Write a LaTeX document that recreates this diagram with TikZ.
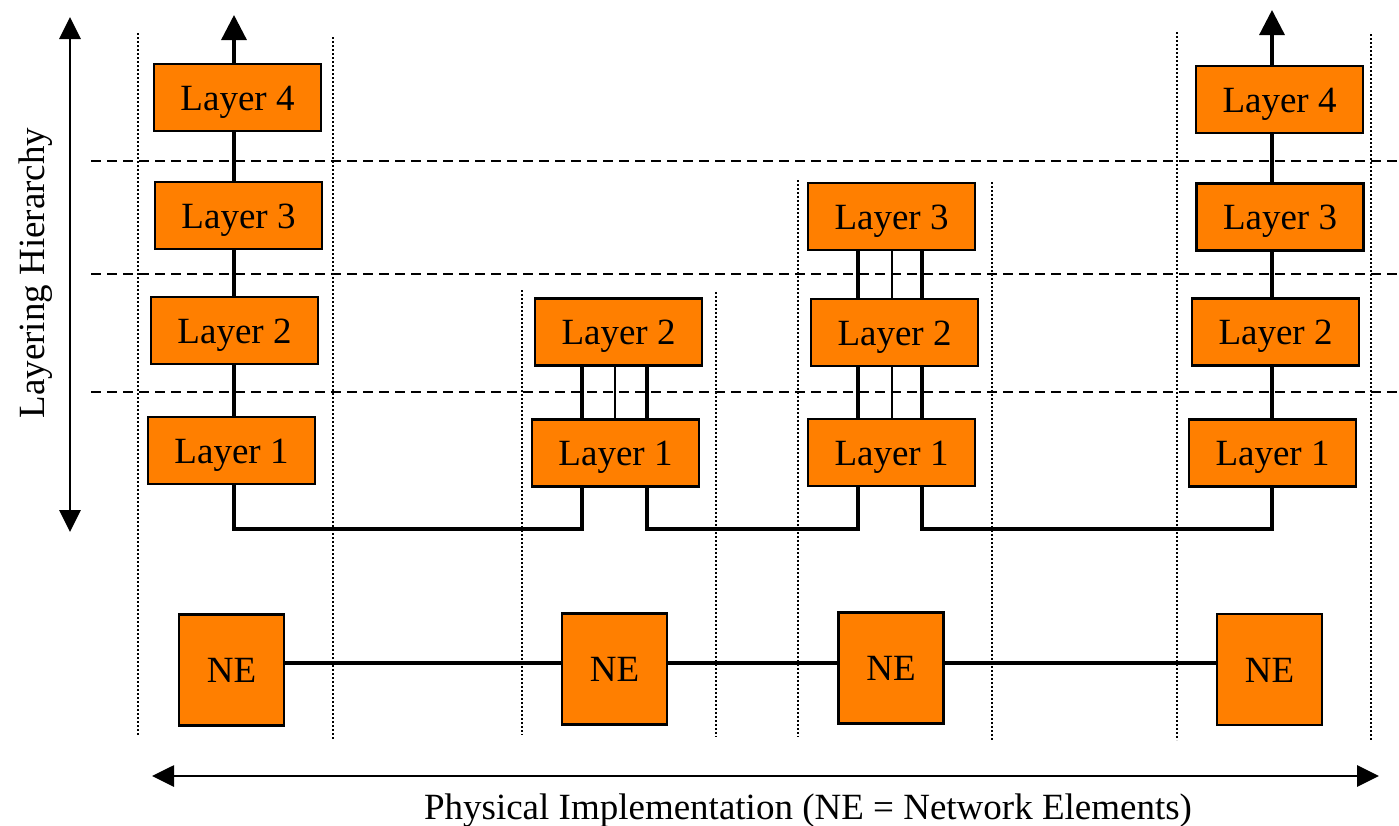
\documentclass[tikz,border=0pt]{standalone}
\usepackage{fontspec}
\setmainfont{Liberation Serif}
\newfontfamily\timesface{Liberation Serif}
\usetikzlibrary{arrows.meta}
\definecolor{boxorange}{RGB}{255,127,0}
\begin{document}
\begin{tikzpicture}[x=1pt,y=-1pt,
  every node/.style={font=\timesface\fontsize{37}{44}\selectfont},
  layerbox/.style={draw=black, line width=2.6pt, fill=boxorange,
    minimum width=167pt, minimum height=67pt, inner sep=0pt,
    text height=25pt, text depth=0pt},
  nebox/.style={layerbox, minimum width=105pt, minimum height=111pt},
  link/.style={line width=3.3pt},
  thinlink/.style={line width=2.2pt},
  uparrow/.style={line width=3.3pt, -{Triangle[length=25pt,width=25pt]}},
  axisarrow/.style={line width=2.8pt,
    {Triangle[length=22pt,width=21pt]}-{Triangle[length=22pt,width=21pt]}},
  dashrule/.style={line width=2.3pt, dash pattern=on 10pt off 6pt},
  dotrule/.style={line width=2pt, dash pattern=on 2pt off 2pt}]
\useasboundingbox (0,0) rectangle (1399,825);

% column boundaries (dotted)
\foreach \x/\ya/\yb in {138/33/735, 333/37/740, 522/290/735, 716/292/737,
                        798/180/737, 992/182/740, 1177/32/740, 1371/34/740}
  \draw[dotrule] (\x,\ya) -- (\x,\yb);

% layer boundaries (dashed)
\foreach \y in {161,274,392}
  \draw[dashrule] (91,\y) -- (1399,\y);

% reference coordinates for the vertical links
\coordinate (x1) at (234,0);
\coordinate (x2a) at (582,0);
\coordinate (x2b) at (615,0);
\coordinate (x2c) at (647,0);
\coordinate (x3a) at (858,0);
\coordinate (x3b) at (892,0);
\coordinate (x3c) at (922,0);
\coordinate (x4) at (1272,0);
\coordinate (yb) at (0,529);
\coordinate (nl) at (0,663);
\coordinate (t1) at (234,15);
\coordinate (t4) at (1272,10);

% stacks of layers
\node[layerbox] (c1l4) at (237.5,97.5) {Layer 4};
\node[layerbox] (c1l3) at (238.5,215.5) {Layer 3};
\node[layerbox] (c1l2) at (234.5,330.5) {Layer 2};
\node[layerbox] (c1l1) at (231.5,450.5) {Layer 1};

\node[layerbox] (c2l2) at (618.5,332) {Layer 2};
\node[layerbox] (c2l1) at (615.5,453) {Layer 1};

\node[layerbox] (c3l3) at (891.5,216.5) {Layer 3};
\node[layerbox] (c3l2) at (894.5,332.5) {Layer 2};
\node[layerbox] (c3l1) at (891.5,452.5) {Layer 1};

\node[layerbox] (c4l4) at (1279.5,99.5) {Layer 4};
\node[layerbox] (c4l3) at (1280,217) {Layer 3};
\node[layerbox] (c4l2) at (1275.5,332) {Layer 2};
\node[layerbox] (c4l1) at (1272.5,453) {Layer 1};

% network elements
\node[nebox] (ne1) at (231.5,670) {NE};
\node[nebox] (ne2) at (614.5,669) {NE};
\node[nebox] (ne3) at (891,668) {NE};
\node[nebox] (ne4) at (1269.5,669.5) {NE};

% end-point stacks
\draw[uparrow] (c1l4.north -| x1) -- (t1);
\draw[link] (c1l4.south -| x1) -- (c1l3.north -| x1);
\draw[link] (c1l3.south -| x1) -- (c1l2.north -| x1);
\draw[link] (c1l2.south -| x1) -- (c1l1.north -| x1);

\draw[uparrow] (c4l4.north -| x4) -- (t4);
\draw[link] (c4l4.south -| x4) -- (c4l3.north -| x4);
\draw[link] (c4l3.south -| x4) -- (c4l2.north -| x4);
\draw[link] (c4l2.south -| x4) -- (c4l1.north -| x4);

% intermediate stacks
\draw[link] (c2l2.south -| x2a) -- (c2l1.north -| x2a);
\draw[thinlink] (c2l2.south -| x2b) -- (c2l1.north -| x2b);
\draw[link] (c2l2.south -| x2c) -- (c2l1.north -| x2c);

\draw[link] (c3l3.south -| x3a) -- (c3l2.north -| x3a);
\draw[thinlink] (c3l3.south -| x3b) -- (c3l2.north -| x3b);
\draw[link] (c3l3.south -| x3c) -- (c3l2.north -| x3c);
\draw[link] (c3l2.south -| x3a) -- (c3l1.north -| x3a);
\draw[thinlink] (c3l2.south -| x3b) -- (c3l1.north -| x3b);
\draw[link] (c3l2.south -| x3c) -- (c3l1.north -| x3c);

% links between the stacks
\draw[link] (c1l1.south -| x1) -- (x1 |- yb) -- (x2a |- yb) -- (c2l1.south -| x2a);
\draw[link] (c2l1.south -| x2c) -- (x2c |- yb) -- (x3a |- yb) -- (c3l1.south -| x3a);
\draw[link] (c3l1.south -| x3c) -- (x3c |- yb) -- (x4 |- yb) -- (c4l1.south -| x4);

% physical links
\draw[link] (ne1.east |- nl) -- (ne2.west |- nl);
\draw[link] (ne2.east |- nl) -- (ne3.west |- nl);
\draw[link] (ne3.east |- nl) -- (ne4.west |- nl);

% axes
\coordinate (ha) at (70,17);
\coordinate (hb) at (70,532);
\draw[axisarrow] (ha) -- (hb);
\node[rotate=90, anchor=base] (hlabel) at (44,273) {Layering Hierarchy};

\coordinate (pa) at (152,776);
\coordinate (pb) at (1379,776);
\draw[axisarrow] (pa) -- (pb);
\node[anchor=base] (plabel) at (808,819) {Physical Implementation (NE = Network Elements)};
\end{tikzpicture}
\end{document}
